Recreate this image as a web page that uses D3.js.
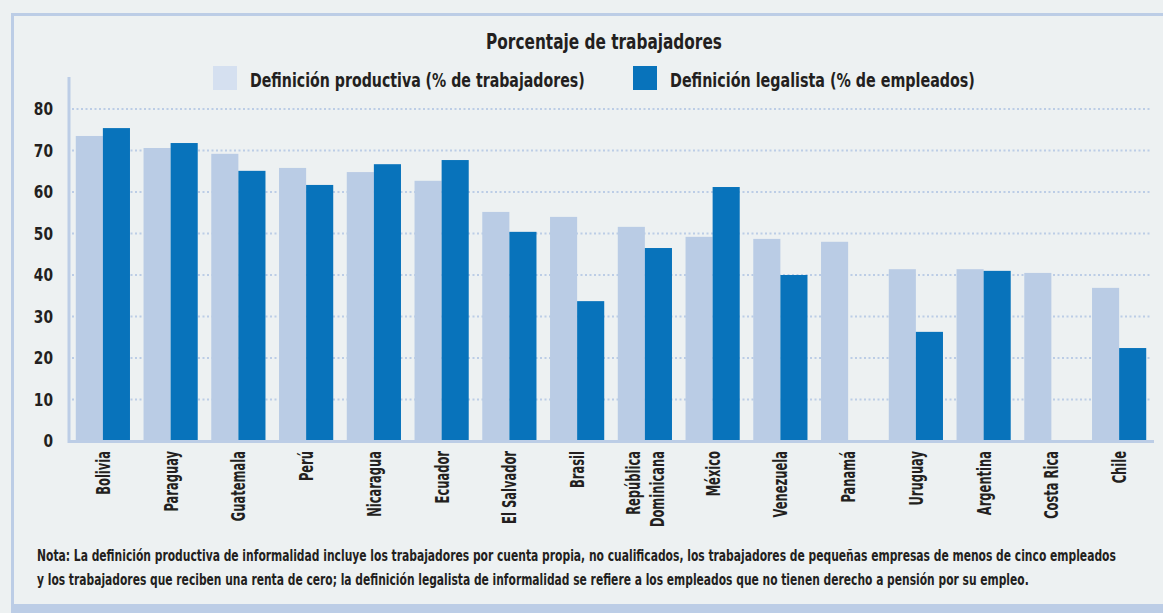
<!DOCTYPE html>
<html>
<head>
<meta charset="utf-8">
<script src="https://cdn.jsdelivr.net/npm/d3@7"></script>
<style>
    body { margin: 0; background: #edf1f2; }
    svg text { font-family: "Liberation Sans Narrow", "DejaVu Sans Condensed", sans-serif; font-weight: bold; fill: #231f20; }
</style>
</head>
<body>
<svg id="chart" width="1163" height="613"></svg>
<script>
const countries = ["Bolivia", "Paraguay", "Guatemala", "Perú", "Nicaragua", "Ecuador", "El Salvador", "Brasil",
    "República Dominicana", "México", "Venezuela", "Panamá", "Uruguay", "Argentina", "Costa Rica", "Chile"];
const productiva = [73.5, 70.6, 69.2, 65.8, 64.8, 62.7, 55.2, 54.0, 51.6, 49.2, 48.7, 48.0, 41.4, 41.4, 40.5, 36.9];
const legalista = [75.4, 71.8, 65.1, 61.7, 66.7, 67.7, 50.4, 33.7, 46.5, 61.2, 40.0, null, 26.3, 41.0, null, 22.4];
const yTicks = [0, 10, 20, 30, 40, 50, 60, 70, 80];
const seriesNames = ["Definición productiva (% de trabajadores)", "Definición legalista (% de empleados)"];
const noteLines = [
    "Nota: La definición productiva de informalidad incluye los trabajadores por cuenta propia, no cualificados, los trabajadores de pequeñas empresas de menos de cinco empleados",
    "y los trabajadores que reciben una renta de cero; la definición legalista de informalidad se refiere a los empleados que no tienen derecho a pensión por su empleo."
];

const COLOR = { LIGHT: "#bacce5", DARK: "#0873bb", FRAME: "#bccde6", KEY: "#d5e0f0" };

const svg = d3.select("#chart");

// squeeze a left/centre anchored text horizontally so it spans `len` px
function fitWidth(text, x, yPos, len) {
    const natural = text.node().getComputedTextLength();
    text.attr("transform", `translate(${x},${yPos}) scale(${len / natural},1)`);
}

// frame
svg.append("rect").attr("x", 12.5).attr("y", 14.5).attr("width", 1160).attr("height", 600)
    .attr("fill", "none").attr("stroke", COLOR.FRAME).attr("stroke-width", 3);
svg.append("rect").attr("x", 11).attr("y", 604).attr("width", 1152).attr("height", 9).attr("fill", COLOR.FRAME);

const x0 = d3.scaleBand().domain(countries).range([69, 1153]).paddingInner(0.2).paddingOuter(0.1);
const x1 = d3.scaleBand().domain([0, 1]).range([0, x0.bandwidth()]);
const y = d3.scaleLinear().domain([0, 80]).range([441, 109]);

// grid
svg.append("g").selectAll("line").data(yTicks.slice(1)).join("line")
    .attr("x1", 72).attr("x2", 1150)
    .attr("y1", (d) => y(d)).attr("y2", (d) => y(d))
    .attr("stroke", COLOR.FRAME).attr("stroke-width", 2).attr("stroke-dasharray", "2,2.5");

// y labels
svg.append("g").selectAll("text").data(yTicks).join("text")
    .attr("transform", (d) => `translate(53,${y(d) + 6}) scale(0.85,1)`)
    .attr("text-anchor", "end").attr("font-size", 18)
    .text((d) => d);

// bars
const groups = svg.append("g").selectAll("g").data(countries).join("g")
    .attr("transform", (d) => `translate(${x0(d)},0)`);
groups.append("rect")
    .attr("x", x1(0)).attr("width", x1.bandwidth())
    .attr("y", (d, i) => y(productiva[i])).attr("height", (d, i) => y(0) - y(productiva[i]))
    .attr("fill", COLOR.LIGHT);
groups.filter((d, i) => legalista[i] !== null).append("rect")
    .attr("x", x1(1)).attr("width", x1.bandwidth())
    .attr("y", (d) => y(legalista[countries.indexOf(d)]))
    .attr("height", (d) => y(0) - y(legalista[countries.indexOf(d)]))
    .attr("fill", COLOR.DARK);

// axes lines
svg.append("line").attr("x1", 69).attr("x2", 69).attr("y1", 77).attr("y2", 443)
    .attr("stroke", COLOR.FRAME).attr("stroke-width", 3);
svg.append("line").attr("x1", 68).attr("x2", 1154).attr("y1", 441.5).attr("y2", 441.5)
    .attr("stroke", COLOR.FRAME).attr("stroke-width", 3);

// x labels, rotated and squeezed to look like the condensed face
groups.each(function (d) {
    const words = d === "República Dominicana" ? ["República", "Dominicana"] : [d];
    const cx = x0.bandwidth() / 2;
    const t = d3.select(this).append("text")
        .attr("transform", `translate(${cx},451) rotate(-90) scale(0.64,1)`)
        .attr("text-anchor", "end").attr("font-size", 20);
    words.forEach((w, k) => {
        t.append("tspan").attr("x", 0)
            .attr("y", (k - (words.length - 1) / 2) * 24 + 7)
            .text(w);
    });
});

// title
const title = svg.append("text").attr("text-anchor", "middle")
    .attr("font-size", 22).text("Porcentaje de trabajadores");
fitWidth(title, 604, 49, 236);

// legend
const legendX = [213, 633];
const legendLen = [335, 305];
const legend = svg.append("g").selectAll("g").data(seriesNames).join("g")
    .attr("transform", (d, i) => `translate(${legendX[i]},66)`);
legend.append("rect").attr("width", 24).attr("height", 24)
    .attr("fill", (d, i) => (i === 0 ? COLOR.KEY : COLOR.DARK));
legend.append("text").attr("font-size", 19).text((d) => d)
    .each(function (d, i) { fitWidth(d3.select(this), 37, 21, legendLen[i]); });

// note
const noteLen = [1080, 993];
svg.append("g").selectAll("text").data(noteLines).join("text")
    .attr("font-size", 15.5).text((d) => d)
    .each(function (d, i) { fitWidth(d3.select(this), 37, 561 + i * 24, noteLen[i]); });
</script>
</body>
</html>
